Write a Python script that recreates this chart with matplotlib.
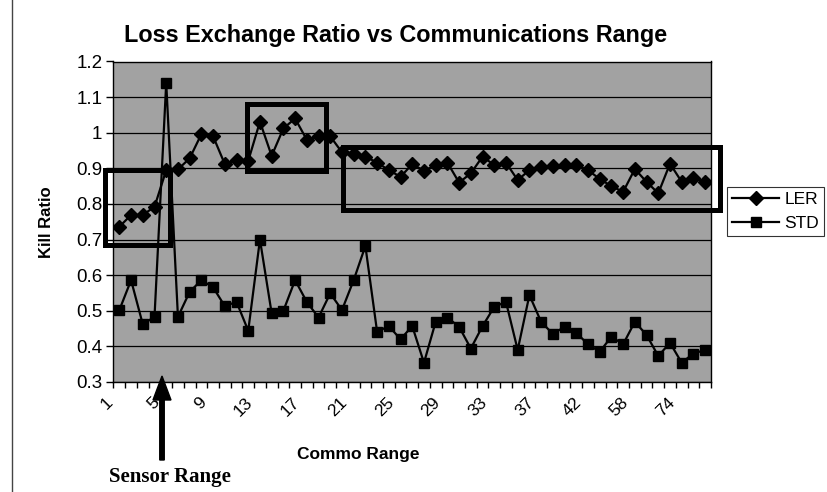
import matplotlib
matplotlib.use("Agg")
import matplotlib.pyplot as plt
import matplotlib.transforms as mtransforms
from matplotlib.lines import Line2D
from matplotlib.patches import Rectangle, FancyArrow
import numpy as np

# categories (commo range) -- only every 4th label is shown on the axis
commo_range = list(range(1, 41)) + [42, 46, 50, 54, 58, 62, 66, 70, 74, 78, 82]

ler = [0.736, 0.769, 0.769, 0.792, 0.895, 0.897, 0.928, 0.996, 0.990, 0.912,
       0.923, 0.921, 1.031, 0.935, 1.012, 1.040, 0.980, 0.990, 0.990, 0.945,
       0.940, 0.933, 0.916, 0.895, 0.876, 0.912, 0.893, 0.909, 0.916, 0.860,
       0.886, 0.933, 0.909, 0.916, 0.867, 0.895, 0.905, 0.906, 0.909, 0.909,
       0.895, 0.870, 0.850, 0.834, 0.898, 0.862, 0.830, 0.913, 0.862, 0.872,
       0.863]

std = [0.502, 0.586, 0.462, 0.483, 1.140, 0.483, 0.553, 0.586, 0.566, 0.513,
       0.525, 0.444, 0.700, 0.493, 0.500, 0.586, 0.525, 0.481, 0.549, 0.502,
       0.586, 0.682, 0.441, 0.457, 0.420, 0.457, 0.354, 0.469, 0.481, 0.455,
       0.394, 0.457, 0.511, 0.525, 0.390, 0.544, 0.469, 0.435, 0.455, 0.438,
       0.406, 0.385, 0.427, 0.406, 0.469, 0.432, 0.373, 0.410, 0.354, 0.380,
       0.390]

y_ticks = [0.3, 0.4, 0.5, 0.6, 0.7, 0.8, 0.9, 1.0, 1.1, 1.2]
y_tick_labels = ["0.3", "0.4", "0.5", "0.6", "0.7", "0.8", "0.9", "1", "1.1", "1.2"]

# highlight boxes: (x0, x1, y0, y1) in category-index / value units
boxes = [(-1.23, 4.31, 0.685, 0.895),
         (10.89, 17.63, 0.892, 1.081),
         (19.08, 51.25, 0.783, 0.960)]

plt.rcParams['font.family'] = ['Liberation Sans', 'DejaVu Sans']

W, H = 828, 492
fig = plt.figure(figsize=(W / 100, H / 100), dpi=100, facecolor='white')
ax = fig.add_axes([113.5 / W, 1 - 382 / H, (711 - 113.5) / W, (382 - 61.5) / H])
ax.set_facecolor('#a2a2a2')

x = np.arange(len(commo_range))
ax.plot(x, ler, color='black', lw=1.6, marker='D', markersize=7.5, label='LER', zorder=4)
ax.plot(x, std, color='black', lw=1.6, marker='s', markersize=7, label='STD', zorder=4)

ax.set_xlim(-0.5, len(commo_range) - 0.5)
ax.set_ylim(0.3, 1.2)

# gridlines
ax.set_yticks(y_ticks)
ax.set_yticklabels(y_tick_labels, fontsize=13.5)
ax.yaxis.grid(True, color='black', lw=0.9)
ax.set_axisbelow(True)
ax.tick_params(axis='y', direction='out', length=5, width=1, pad=3)

# x axis: tick marks between categories, labels every 4th
major = x[::4]
ax.set_xticks(major)
ax.set_xticklabels([str(commo_range[i]) for i in major], fontsize=12.5, rotation=45,
                   ha='right', va='top')
ax.set_xticks(np.arange(-0.5, len(commo_range)), minor=True)
ax.tick_params(axis='x', which='major', length=0, pad=9)
ax.tick_params(axis='x', which='minor', direction='out', length=4, width=1)
shift = mtransforms.ScaledTranslation(-4 / 100, 0, fig.dpi_scale_trans)
for lbl in ax.get_xticklabels():
    lbl.set_transform(lbl.get_transform() + shift)

for s in ax.spines.values():
    s.set_color('black')
    s.set_linewidth(1)

ax.set_title('Loss Exchange Ratio vs Communications Range', fontsize=16.8,
             fontweight='bold', pad=14, x=(396 - 113.5) / 597.5)
ax.set_xlabel('Commo Range', fontsize=12.5, fontweight='bold')
ax.xaxis.set_label_coords((358 - 113.5) / 597.5, (382 - 447) / 320.5)
ax.set_ylabel('Kill Ratio', fontsize=12, fontweight='bold', labelpad=16)

for x0, x1, y0, y1 in boxes:
    ax.add_patch(Rectangle((x0, y0), x1 - x0, y1 - y0, fill=False, ec='black',
                           lw=3.6, clip_on=False, zorder=5))

leg = fig.legend(loc='upper left', bbox_to_anchor=(727 / W, 1 - 187 / H),
                 fontsize=12.5, frameon=True, fancybox=False, edgecolor='black',
                 handlelength=2.7, borderpad=0.3, labelspacing=0.5,
                 handletextpad=0.3, borderaxespad=0)
leg.get_frame().set_linewidth(0.8)

# sensor range arrow
fig.text(170 / W, 1 - 477 / H, 'Sensor Range', family=['Liberation Serif', 'DejaVu Serif'],
         fontsize=15, fontweight='bold', ha='center', va='center')
fig.patches.append(FancyArrow(
    162 / W, 1 - 460 / H, 0, (460 - 376) / H, width=4.5 / W, head_width=18 / W,
    head_length=24 / H, length_includes_head=True, color='black',
    transform=fig.transFigure, figure=fig))

# outer chart border (left edge visible in the scan)
fig.add_artist(Line2D([12.5 / W, 12.5 / W], [0, 1], color='#444444', lw=1))

fig.savefig('out.png', dpi=100)
